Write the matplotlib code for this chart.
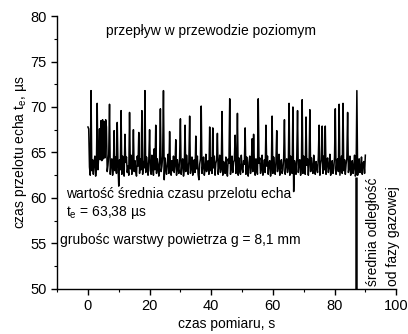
import numpy as np
import matplotlib
matplotlib.use("Agg")
import matplotlib.pyplot as plt
from matplotlib.ticker import MultipleLocator

#echo flight time in horizontal pipe flow
czas_krok = 0.25  # s between samples
czas_echa = [
    67.8, 67.6, 63.4, 62.5, 71.8, 63.0, 64.2, 62.6, 63.9, 64.6,
    62.4, 63.5, 70.4, 63.1, 64.7, 67.6, 64.2, 68.5, 64.1, 68.6,
    64.3, 68.4, 64.4, 68.6, 67.8, 62.9, 63.6, 64.8, 70.3, 62.6,
    63.8, 64.3, 62.5, 63.4, 67.4, 63.0, 64.5, 62.7, 68.3, 63.6,
    61.3, 64.2, 63.1, 69.6, 62.6, 64.6, 63.3, 62.4, 67.0, 63.9,
    64.5, 62.8, 63.5, 62.5, 69.4, 63.2, 64.7, 62.6, 63.8, 67.5,
    62.9, 64.1, 63.0, 62.4, 64.6, 63.5, 67.2, 62.7, 64.3, 63.1,
    69.6, 62.6, 64.0, 63.3, 71.8, 62.8, 64.5, 63.6, 62.5, 64.2,
    67.5, 63.0, 62.6, 64.7, 63.4, 62.5, 65.4, 63.1, 68.0, 62.7,
    64.3, 63.6, 62.4, 64.0, 69.8, 62.9, 63.5, 64.6, 71.8, 62.0,
    64.4, 63.2, 62.6, 63.9, 64.8, 62.7, 67.3, 63.4, 62.5, 64.1,
    63.0, 64.6, 62.8, 63.7, 66.4, 62.5, 64.2, 63.3, 62.7, 64.5,
    68.7, 62.6, 63.8, 64.3, 62.4, 63.1, 68.0, 62.9, 64.7, 63.5,
    62.6, 64.0, 69.0, 62.7, 63.4, 64.5, 62.5, 63.9, 64.2, 62.8,
    66.8, 63.2, 64.6, 62.6, 62.0, 63.7, 64.3, 70.1, 62.7, 63.5,
    64.5, 62.5, 63.1, 64.8, 62.9, 63.6, 64.1, 62.6, 67.8, 63.0,
    64.4, 62.7, 67.7, 63.3, 64.6, 62.5, 63.8, 64.2, 67.1, 62.6,
    63.5, 64.7, 62.8, 63.2, 69.5, 62.5, 64.0, 63.6, 62.7, 64.5,
    63.1, 62.4, 64.3, 63.8, 70.9, 62.6, 63.4, 64.6, 62.8, 63.9,
    64.2, 66.9, 62.7, 63.5, 69.3, 62.5, 64.4, 63.0, 62.6, 64.7,
    63.3, 62.8, 64.1, 63.7, 67.7, 62.6, 64.5, 63.2, 62.4, 63.9,
    64.6, 62.7, 63.4, 66.5, 62.9, 67.0, 63.6, 62.5, 64.3, 63.1,
    62.6, 70.9, 63.8, 64.4, 62.7, 63.3, 64.7, 62.5, 63.0, 64.2,
    62.8, 68.0, 63.5, 64.6, 62.6, 63.9, 64.1, 62.4, 63.2, 69.0,
    62.7, 64.5, 63.4, 62.6, 64.0, 67.4, 62.9, 63.7, 64.8, 62.5,
    63.6, 64.2, 62.7, 63.1, 64.4, 68.6, 62.6, 63.8, 64.3, 62.8,
    63.3, 70.4, 62.5, 64.6, 63.0, 62.7, 70.0, 60.7, 64.1, 63.5,
    62.6, 64.5, 69.6, 62.8, 63.9, 64.2, 62.5, 63.4, 70.8, 62.7,
    64.6, 63.1, 62.6, 68.9, 63.6, 64.3, 62.5, 63.8, 69.7, 62.9,
    64.4, 63.2, 62.7, 64.7, 63.5, 62.6, 64.0, 63.3, 62.8, 64.5,
    68.0, 62.5, 63.7, 64.2, 67.9, 62.7, 64.6, 63.1, 67.9, 62.6,
    63.9, 64.4, 62.8, 63.4, 64.8, 62.5, 63.6, 64.1, 62.7, 63.2,
    64.5, 69.8, 62.6, 63.8, 64.3, 62.9, 70.3, 62.5, 63.5, 64.6,
    62.7, 70.4, 63.0, 64.2, 62.6, 63.7, 64.4, 69.4, 62.8, 63.3,
    64.6, 62.5, 63.9, 64.1, 62.7, 63.4, 64.7, 62.4, 62.6, 71.8,
    62.5, 63.6, 64.3, 62.8, 63.2, 64.5, 62.6, 63.8, 64.0, 62.7,
    64.7,
]
czas = np.arange(len(czas_echa)) * czas_krok

#marker of mean gas phase distance
granica_x = 87.0
granica_y = [50.0, 62.3]

plt.rcParams['font.family'] = ['Liberation Sans', 'DejaVu Sans']
plt.rcParams['mathtext.default'] = 'regular'

fig = plt.figure(figsize=(4.08, 3.34), dpi=100)
ax = fig.add_axes([0.140, 0.135, 0.831, 0.817])

ax.plot(czas, czas_echa, color='black', lw=1.1)
ax.vlines(granica_x, granica_y[0], granica_y[1], color='black', lw=1.8)

ax.set_xlim(-10, 100)
ax.set_ylim(50, 80)
ax.xaxis.set_major_locator(MultipleLocator(20))
ax.xaxis.set_minor_locator(MultipleLocator(10))
ax.yaxis.set_major_locator(MultipleLocator(5))
ax.yaxis.set_minor_locator(MultipleLocator(2.5))
ax.spines['top'].set_visible(False)
ax.spines['right'].set_visible(False)
for s in ('left', 'bottom'):
    ax.spines[s].set_linewidth(1.0)
ax.tick_params(which='major', direction='out', length=4, width=1.0, labelsize=10.5)
ax.tick_params(which='minor', direction='out', length=2.5, width=0.8)

ax.set_xlabel("czas pomiaru, s", fontsize=10, labelpad=3)
ax.set_ylabel("czas przelotu echa t$_e$, µs", fontsize=10, labelpad=1)

ax.text(6, 78.4, "przepływ w przewodzie poziomym", fontsize=10, va='center')
ax.text(-7.2, 60.4, "wartość średnia czasu przelotu echa", fontsize=10, va='center')
ax.text(-7.2, 58.4, "t$_e$ = 63,38 µs", fontsize=10, va='center')
ax.text(-9.2, 55.4, "grubośc warstwy powietrza g = 8,1 mm", fontsize=10, va='center')
ax.text(92.6, 50.3, "średnia odległość", fontsize=10, rotation=90, ha='center', va='bottom')
ax.text(99.0, 50.3, "od fazy gazowej", fontsize=10, rotation=90, ha='center', va='bottom')

fig.savefig("out.png", dpi=100)
